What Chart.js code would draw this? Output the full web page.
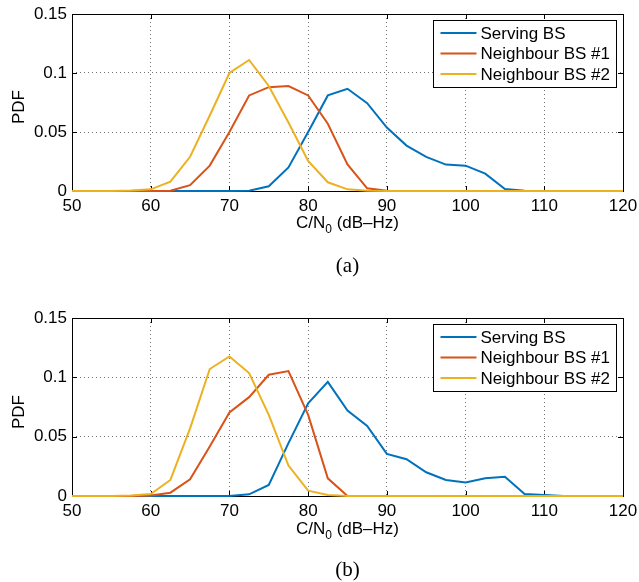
<!DOCTYPE html>
<html>
<head>
<meta charset="utf-8">
<script src="https://cdn.jsdelivr.net/npm/chart.js@4/dist/chart.umd.min.js"></script>
<style>
  html, body { margin: 0; padding: 0; background: #fff; }
  body { width: 639px; height: 582px; position: relative; overflow: hidden; }
  canvas { position: absolute; left: 0; }
  .lbl { position: absolute; font-family: "Liberation Sans", Arial, sans-serif; font-size: 17px; color: #000; white-space: nowrap; }
  .xl { left: 72px; width: 551px; text-align: center; line-height: 20px; }
  .xl sub { font-size: 12px; vertical-align: -5px; line-height: 0; }
  .yl { transform: rotate(-90deg); transform-origin: center center; width: 60px; text-align: center; line-height: 20px; }
  .cap { position: absolute; left: 72px; width: 551px; text-align: center; font-family: "Liberation Serif", "Times New Roman", serif; font-size: 21px; line-height: 24px; }
</style>
</head>
<body>
<canvas id="cA" width="639" height="230" style="top:0px"></canvas>
<canvas id="cB" width="639" height="231" style="top:304px"></canvas>
<div class="lbl xl" style="top:213px">C/N<sub>0</sub> (dB–Hz)</div>
<div class="lbl yl" style="left:-11px; top:97px">PDF</div>
<div class="cap" style="top:253px">(a)</div>
<div class="lbl xl" style="top:519px">C/N<sub>0</sub> (dB–Hz)</div>
<div class="lbl yl" style="left:-11px; top:402px">PDF</div>
<div class="cap" style="top:557px">(b)</div>
<script>
// ---- data ----
const cn0 = [50, 52.5, 55, 57.5, 60, 62.5, 65, 67.5, 70, 72.5, 75, 77.5, 80, 82.5, 85, 87.5, 90, 92.5, 95, 97.5, 100, 102.5, 105, 107.5, 110, 112.5, 115, 117.5, 120];
const seriesNames = ["Serving BS", "Neighbour BS #1", "Neighbour BS #2"];
// panel (a)
const servingA = [0, 0, 0, 0, 0, 0, 0, 0, 0, 0.0003, 0.004, 0.020, 0.050, 0.081, 0.0866, 0.0744, 0.0538, 0.0385, 0.0289, 0.0224, 0.0215, 0.0147, 0.0017, 0.0003, 0, 0, 0, 0, 0];
const neigh1A  = [0, 0, 0, 0, 0, 0.0003, 0.005, 0.0215, 0.050, 0.081, 0.088, 0.089, 0.081, 0.057, 0.0226, 0.0023, 0.0003, 0, 0, 0, 0, 0, 0, 0, 0, 0, 0, 0, 0];
const neigh2A  = [0, 0, 0.0001, 0.0005, 0.0014, 0.0079, 0.029, 0.064, 0.100, 0.111, 0.089, 0.058, 0.0255, 0.0074, 0.0014, 0.0003, 0, 0, 0, 0, 0, 0, 0, 0, 0, 0, 0, 0, 0];
// panel (b)
const servingB = [0, 0, 0, 0, 0, 0, 0, 0, 0, 0.0014, 0.0093, 0.0445, 0.0782, 0.0962, 0.072, 0.059, 0.0355, 0.031, 0.020, 0.0135, 0.0113, 0.0149, 0.0163, 0.0017, 0.0008, 0, 0, 0, 0];
const neigh1B  = [0, 0, 0, 0, 0.0005, 0.0028, 0.014, 0.0417, 0.0704, 0.0833, 0.1022, 0.1053, 0.0684, 0.0149, 0, 0, 0, 0, 0, 0, 0, 0, 0, 0, 0, 0, 0, 0, 0];
const neigh2B  = [0, 0, 0, 0.0005, 0.0017, 0.0135, 0.057, 0.107, 0.1176, 0.1036, 0.0684, 0.0256, 0.0045, 0.0008, 0, 0, 0, 0, 0, 0, 0, 0, 0, 0, 0, 0, 0, 0, 0];
const xTicks = [50, 60, 70, 80, 90, 100, 110, 120];
const xTickLabels = ["50", "60", "70", "80", "90", "100", "110", "120"];
const yTicks = [0, 0.05, 0.1, 0.15];
const yTickLabels = ["0", "0.05", "0.1", "0.15"];

const colors = ["#0072BD", "#D95319", "#EDB120"];
const FONT = "'Liberation Sans', Arial, sans-serif";

const boxPlugin = {
  id: 'boxPlugin',
  beforeDatasetsDraw(chart) {
    const ctx = chart.ctx, a = chart.chartArea;
    const xs = chart.scales.x, ys = chart.scales.y;
    ctx.save();
    ctx.strokeStyle = '#000';
    ctx.lineWidth = 1;
    ctx.strokeRect(Math.round(a.left) + 0.5, Math.round(a.top) + 0.5, Math.round(a.right - a.left), Math.round(a.bottom - a.top));
    const tl = 5;
    ctx.beginPath();
    xTicks.forEach(v => {
      const px = Math.round(xs.getPixelForValue(v)) + 0.5;
      ctx.moveTo(px, a.bottom); ctx.lineTo(px, a.bottom - tl);
      ctx.moveTo(px, a.top); ctx.lineTo(px, a.top + tl);
    });
    yTicks.forEach(v => {
      const py = Math.round(ys.getPixelForValue(v)) + 0.5;
      ctx.moveTo(a.left, py); ctx.lineTo(a.left + tl, py);
      ctx.moveTo(a.right, py); ctx.lineTo(a.right - tl, py);
    });
    ctx.stroke();
    ctx.restore();
  },
  afterDatasetsDraw(chart) {
    const ctx = chart.ctx, a = chart.chartArea;
    ctx.save();
    const bx = Math.round(a.right - 7 - 183) + 0.5, by = Math.round(a.top + 6) + 0.5, bw = 183, bh = 67;
    ctx.fillStyle = '#fff';
    ctx.fillRect(bx, by, bw, bh);
    ctx.strokeStyle = '#000';
    ctx.lineWidth = 1;
    ctx.strokeRect(bx, by, bw, bh);
    ctx.font = "17px " + FONT;
    ctx.textBaseline = 'middle';
    ctx.textAlign = 'left';
    chart.data.datasets.forEach((ds, i) => {
      const cy = a.top + 19 + i * 20.5;
      ctx.strokeStyle = ds.borderColor;
      ctx.lineWidth = 2;
      ctx.beginPath();
      ctx.moveTo(bx + 7, cy); ctx.lineTo(bx + 43, cy);
      ctx.stroke();
      ctx.fillStyle = '#000';
      ctx.fillText(ds.label, bx + 47, cy + 1);
    });
    ctx.restore();
  }
};

function makeChart(id, s1, s2, s3) {
  const sets = [s1, s2, s3];
  return new Chart(document.getElementById(id), {
    type: 'line',
    data: {
      datasets: sets.map((s, i) => ({
        label: seriesNames[i],
        data: cn0.map((x, k) => ({ x: x, y: s[k] })),
        borderColor: colors[i],
        backgroundColor: colors[i],
        borderWidth: 2,
        pointRadius: 0,
        tension: 0,
        fill: false,
        clip: 2,
        order: 3 - i
      }))
    },
    options: {
      responsive: false,
      animation: false,
      devicePixelRatio: 1,
      layout: { padding: { top: 14, right: 16, left: 0, bottom: 0 } },
      plugins: { legend: { display: false }, tooltip: { enabled: false } },
      scales: {
        x: {
          type: 'linear', min: 50, max: 120,
          afterBuildTicks: s => { s.ticks = xTicks.map(v => ({ value: v })); },
          afterFit: s => { s.height = 39; s.paddingLeft = 0; s.paddingRight = 0; },
          ticks: { callback: (v, i) => xTickLabels[i], font: { family: FONT, size: 17 }, color: '#000', padding: 5, maxRotation: 0, autoSkip: false },
          grid: {
            drawTicks: false,
            color: c => (c.index === 0 || c.index === xTicks.length - 1) ? 'rgba(0,0,0,0)' : 'rgba(0,0,0,0.55)'
          },
          border: { display: false, dash: [1, 3] }
        },
        y: {
          min: 0, max: 0.15,
          afterBuildTicks: s => { s.ticks = yTicks.map(v => ({ value: v })); },
          afterFit: s => { s.width = 72; s.paddingTop = 0; s.paddingBottom = 0; },
          ticks: { callback: (v, i) => yTickLabels[i], font: { family: FONT, size: 17 }, color: '#000', padding: 5 },
          grid: {
            drawTicks: false,
            color: c => (c.index === 0 || c.index === yTicks.length - 1) ? 'rgba(0,0,0,0)' : 'rgba(0,0,0,0.55)'
          },
          border: { display: false, dash: [1, 3] }
        }
      }
    },
    plugins: [boxPlugin]
  });
}

makeChart('cA', servingA, neigh1A, neigh2A);
makeChart('cB', servingB, neigh1B, neigh2B);
</script>
</body>
</html>
